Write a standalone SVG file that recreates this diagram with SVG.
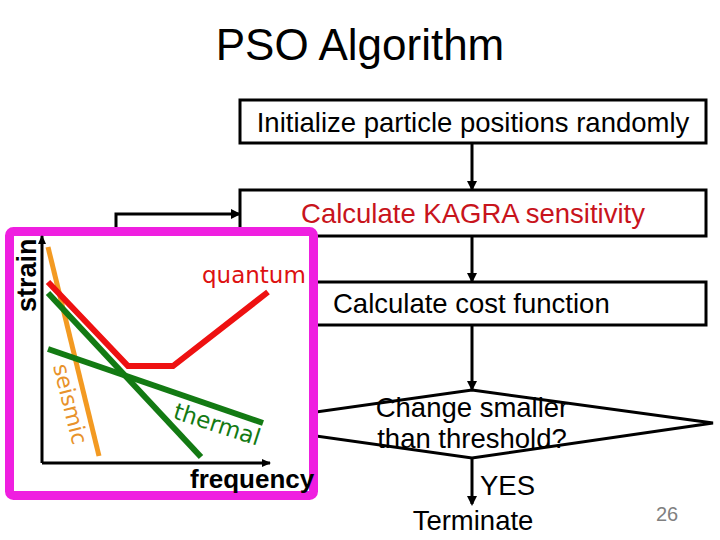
<svg xmlns="http://www.w3.org/2000/svg" width="720" height="540" viewBox="0 0 720 540">
<style>
.box{fill:#fff;stroke:#000;stroke-width:3}
.t{font-family:"Liberation Sans",Arial,sans-serif;font-size:27.5px;fill:#000}
.c{text-anchor:middle}
.con{fill:none;stroke:#000;stroke-width:3}
.lbl{font-family:"DejaVu Sans",Verdana,sans-serif;font-size:23px}
.b{font-family:"Liberation Sans",Arial,sans-serif;font-weight:bold;fill:#000}
</style>
<defs>
<marker id="ah" markerWidth="10" markerHeight="10" refX="8" refY="5" orient="auto" markerUnits="userSpaceOnUse"><path d="M0,0 L10,5 L0,10 Z" fill="#000"/></marker>
<marker id="ax" markerWidth="9" markerHeight="8" refX="8" refY="4" orient="auto" markerUnits="userSpaceOnUse"><path d="M0,0 L9,4 L0,8 Z" fill="#000"/></marker>
</defs>
<rect width="720" height="540" fill="#fff"/>
<text id="title" x="360" y="60" class="t c" style="font-size:44px">PSO Algorithm</text>
<g id="connectors">
<line class="con" x1="472" y1="143" x2="472" y2="189" marker-end="url(#ah)"/>
<line class="con" x1="472" y1="236" x2="472" y2="281" marker-end="url(#ah)"/>
<line class="con" x1="472" y1="325" x2="472" y2="389" marker-end="url(#ah)"/>
<line class="con" x1="472" y1="458" x2="472" y2="504" marker-end="url(#ah)"/>
<polyline class="con" points="116,260 116,214 239,214" marker-end="url(#ah)"/>
</g>
<g id="init"><rect class="box" x="240" y="100" width="466" height="43"/><text class="t c" x="473" y="132">Initialize particle positions randomly</text></g>
<g id="kagra"><rect class="box" x="240" y="190" width="466" height="46"/><text class="t c" x="473" y="223" style="fill:#c8141c">Calculate KAGRA sensitivity</text></g>
<g id="cost"><rect class="box" x="300" y="282" width="406" height="43"/><text class="t" x="333" y="313">Calculate cost function</text></g>
<g id="decision"><polygon class="box" points="472,390 713,423 472,458 231,424"/><text class="t c" x="472" y="417">Change smaller</text><text class="t c" x="472" y="448">than threshold?</text></g>
<g id="yes"><text class="t" x="480" y="495">YES</text></g>
<g id="terminate"><text class="t c" x="473" y="530">Terminate</text></g>
<g id="graph">
<rect x="9.5" y="231.5" width="304" height="264" rx="4" fill="#fff" stroke="#ef1fe0" stroke-width="9"/>
<line x1="42" y1="463" x2="42" y2="236" stroke="#000" stroke-width="3" marker-end="url(#ax)"/>
<line x1="42" y1="463" x2="270" y2="463" stroke="#000" stroke-width="3" marker-end="url(#ax)"/>
<line x1="48" y1="247" x2="99" y2="456" stroke="#f39a22" stroke-width="5"/>
<polyline points="48,282 128,366 173,366 268,292" fill="none" stroke="#ee1111" stroke-width="6"/>
<line x1="48" y1="293" x2="201" y2="457" stroke="#137a13" stroke-width="6"/>
<line x1="48" y1="349" x2="263" y2="423" stroke="#137a13" stroke-width="6"/>
<text class="lbl" x="202" y="283" fill="#dd1111" style="font-size:23px">quantum</text>
<text class="lbl" transform="translate(172,418) rotate(18)" fill="#137a13">thermal</text>
<text class="lbl" transform="translate(53,366) rotate(76)" fill="#e8922a" style="font-size:22px">seismic</text>
<text class="b" transform="translate(36,312) rotate(-90)" style="font-size:27px">strain</text>
<text class="b" x="190" y="488" style="font-size:26px">frequency</text>
</g>
<text id="page" x="667" y="521" text-anchor="middle" style="font-family:'Liberation Sans',Arial,sans-serif;font-size:20px;fill:#808080">26</text>
</svg>
